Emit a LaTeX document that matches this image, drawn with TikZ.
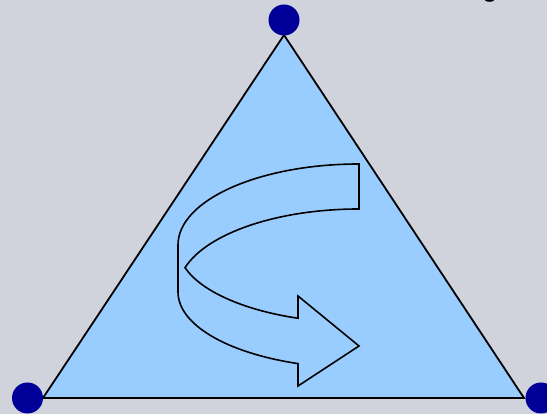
\documentclass[tikz,border=0pt]{standalone}
\usepackage{fontspec}
\setmainfont{Liberation Sans}
\definecolor{bgcol}{HTML}{D0D3DC}
\definecolor{trifill}{HTML}{99CCFF}
\definecolor{dotcol}{HTML}{000099}
\begin{document}
\begin{tikzpicture}[x=1pt,y=1pt,
  dotstyle/.style={circle,fill=dotcol,inner sep=0pt,minimum size=31pt},
  tristyle/.style={fill=trifill,draw=black,line width=1.8pt,line join=miter},
  arrowstyle/.style={fill=trifill,draw=black,line width=1.6pt,line join=miter}]
\useasboundingbox (0,0) rectangle (547,414);
\clip (0,0) rectangle (547,414);
\fill[bgcol] (0,0) rectangle (547,414);
% triangle
\coordinate (tA) at (284,379);
\coordinate (tB) at (43,16);
\coordinate (tC) at (524,16);
\draw[tristyle] (tA) -- (tB) -- (tC) -- cycle;
% curved 3D arrow
\draw[arrowstyle] (178,169)
  arc[start angle=180,end angle=90,x radius=181pt,y radius=81pt]
  -- (359,205)
  arc[start angle=90,end angle=164,x radius=181pt,y radius=81pt]
  arc[start angle=196,end angle=250.3,x radius=181pt,y radius=76pt]
  -- (298,118) -- (359,68) -- (298,28) -- (298,50.4)
  arc[start angle=250.3,end angle=180,x radius=181pt,y radius=76pt]
  -- cycle;
% vertex dots
\node[dotstyle] (dtop) at (284,394) {};
\node[dotstyle] (dleft) at (27.5,16) {};
\node[dotstyle] (dright) at (541,16) {};
% cut-off text at the top
\node[anchor=base west,inner sep=0pt,font=\fontsize{28pt}{30pt}\selectfont] (ttl) at (482,417.5) {g};
\end{tikzpicture}
\end{document}
